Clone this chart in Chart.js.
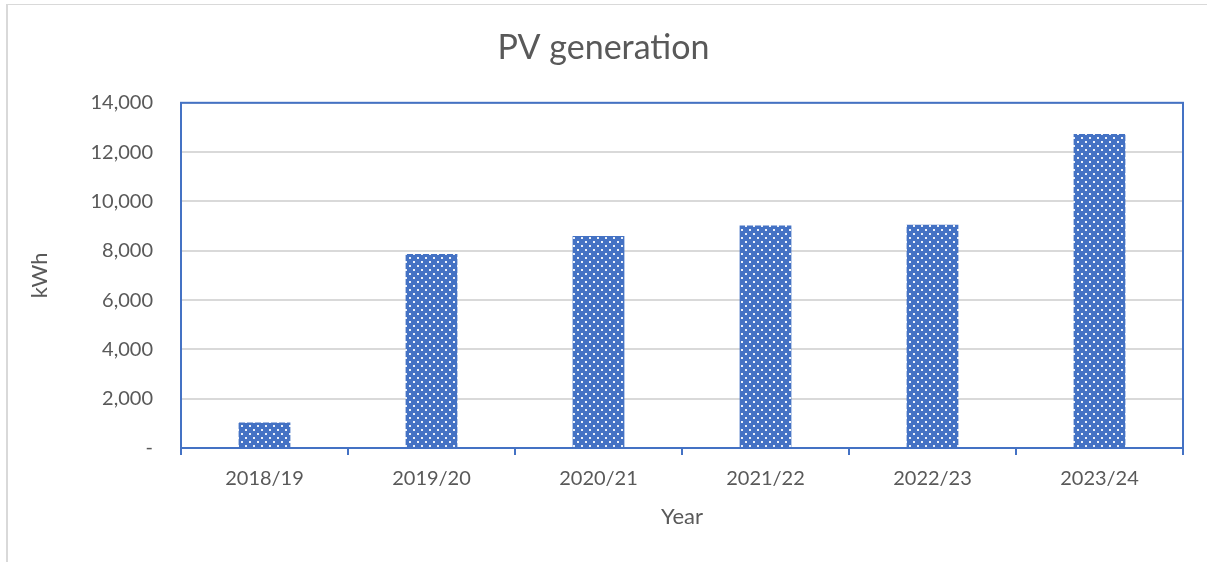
<!DOCTYPE html>
<html>
<head>
<meta charset="utf-8">
<script src="https://cdn.jsdelivr.net/npm/chart.js@4/dist/chart.umd.min.js"></script>
<style>
  html, body { margin: 0; padding: 0; background: #ffffff; }
  #wrap { position: relative; width: 1207px; height: 562px; overflow: hidden; }
  #frame { position: absolute; left: 6px; top: 4px; width: 1400px; height: 800px;
           border-left: 2px solid #d9d9d9; border-top: 1px solid #d9d9d9; box-sizing: border-box; }
  canvas { position: absolute; left: 0; top: 0; }
</style>
</head>
<body>
<div id="wrap">
  <div id="frame"></div>
  <canvas id="c" width="1207" height="562"></canvas>
</div>
<script>
const categories = ['2018/19', '2019/20', '2020/21', '2021/22', '2022/23', '2023/24'];
const pvGeneration = [1030, 7870, 8600, 9020, 9050, 12730];
const yTickValues = [0, 2000, 4000, 6000, 8000, 10000, 12000, 14000];
const yTickLabels = ['-', '2,000', '4,000', '6,000', '8,000', '10,000', '12,000', '14,000'];
const chartTitle = 'PV generation';
const xTitle = 'Year';
const yTitle = 'kWh';

const BLUE = '#4472C4';
const TEXT = '#595959';
const FONT = 'Lato, "Open Sans", sans-serif';

function makePattern() {
  const t = document.createElement('canvas');
  t.width = 8; t.height = 8;
  const g = t.getContext('2d');
  g.fillStyle = BLUE;
  g.fillRect(0, 0, 8, 8);
  g.fillStyle = 'rgba(255,255,255,0.9)';
  g.fillRect(1, 1, 2, 2);
  g.fillRect(5, 5, 2, 2);
  return g.createPattern(t, 'repeat');
}

const ctx = document.getElementById('c').getContext('2d');
const pattern = makePattern();

const plotBorder = {
  id: 'plotBorder',
  afterDraw(chart) {
    const a = chart.chartArea;
    const c = chart.ctx;
    c.save();
    c.strokeStyle = BLUE;
    c.lineWidth = 2;
    c.strokeRect(a.left, a.top, a.right - a.left, a.bottom - a.top);
    c.restore();
  }
};

new Chart(ctx, {
  type: 'bar',
  data: {
    labels: categories,
    datasets: [{
      data: pvGeneration,
      backgroundColor: pattern,
      borderWidth: 0,
      barPercentage: 0.31,
      categoryPercentage: 1.0
    }]
  },
  options: {
    responsive: false,
    animation: false,
    devicePixelRatio: 1,
    layout: { padding: 0 },
    plugins: {
      legend: { display: false },
      tooltip: { enabled: false },
      title: {
        display: true,
        text: chartTitle,
        color: TEXT,
        font: { family: FONT, size: 34, weight: 'normal', lineHeight: 1.2 },
        padding: { top: 28, bottom: 34 }
      }
    },
    scales: {
      x: {
        grid: {
          display: true,
          offset: true,
          drawOnChartArea: false,
          drawTicks: true,
          tickLength: 7,
          color: BLUE,
          lineWidth: 2
        },
        border: { display: true, color: BLUE, width: 2 },
        ticks: {
          color: TEXT,
          font: { family: FONT, size: 20 },
          padding: 12,
          maxRotation: 0
        },
        title: {
          display: true,
          text: xTitle,
          color: TEXT,
          font: { family: FONT, size: 22 },
          padding: { top: 0, bottom: 32 }
        },
        afterFit(scale) { scale.height = 114; }
      },
      y: {
        min: 0,
        max: 14000,
        afterBuildTicks(scale) {
          scale.ticks = yTickValues.map(v => ({ value: v }));
        },
        grid: {
          color: '#d9d9d9',
          lineWidth: 2,
          drawTicks: false,
          tickLength: 0
        },
        border: { display: true, color: BLUE, width: 2 },
        ticks: {
          color: TEXT,
          font: { family: FONT, size: 20 },
          padding: 28,
          callback(value) {
            const i = yTickValues.indexOf(value);
            return i >= 0 ? yTickLabels[i] : '';
          }
        },
        title: {
          display: true,
          text: yTitle,
          color: TEXT,
          font: { family: FONT, size: 22 },
          padding: { top: 27, bottom: 0 }
        },
        afterFit(scale) { scale.width = 181; }
      },
      yRight: {
        type: 'linear',
        position: 'right',
        display: true,
        min: 0,
        max: 14000,
        grid: { display: false, drawOnChartArea: false },
        border: { display: false },
        ticks: { display: false },
        afterFit(scale) { scale.width = 24; }
      }
    }
  },
  plugins: [plotBorder]
});
</script>
</body>
</html>
